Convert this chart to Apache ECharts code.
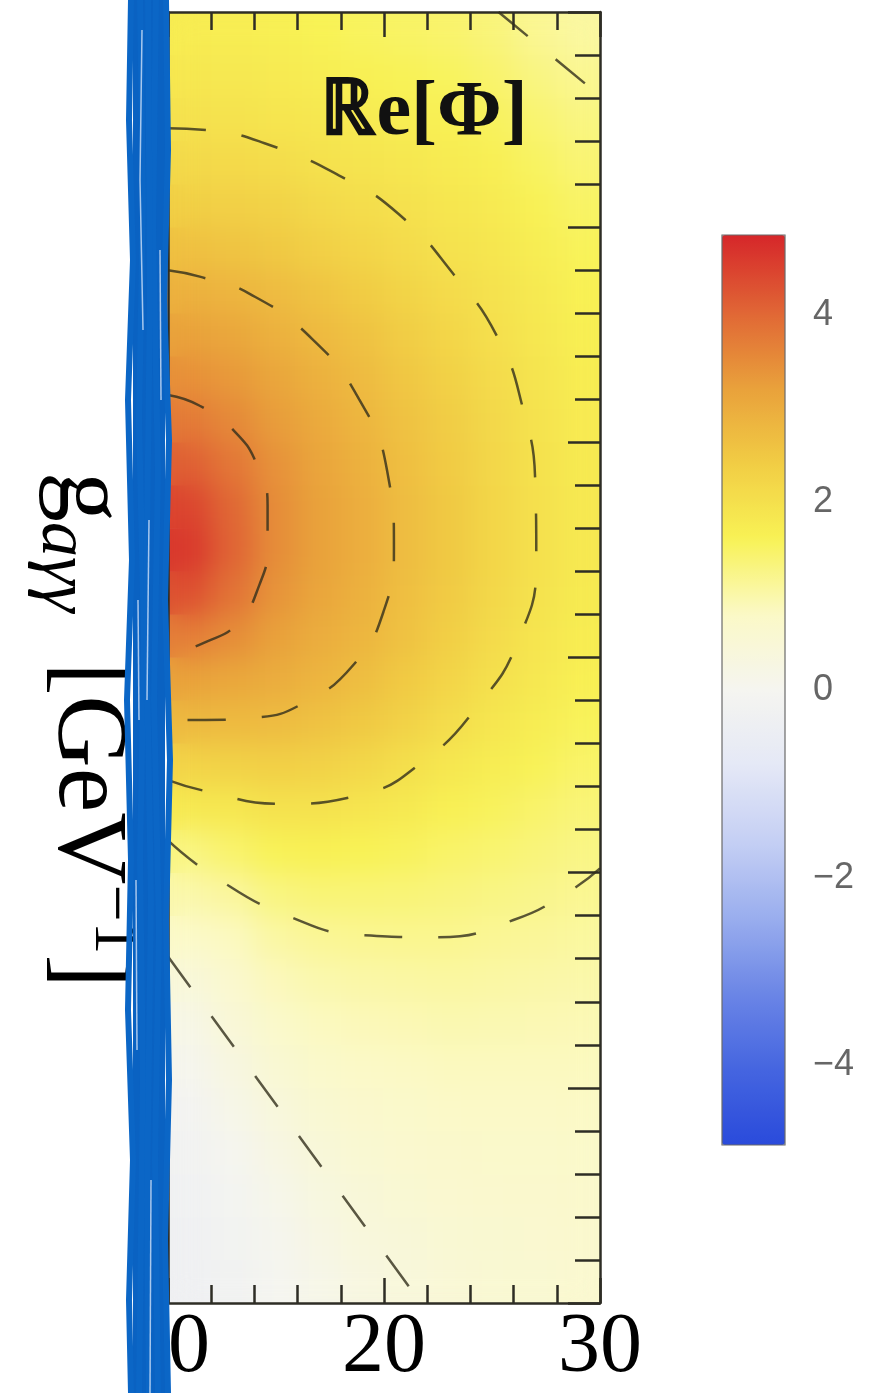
<!DOCTYPE html>
<html>
<head>
<meta charset="utf-8">
<script src="https://cdn.jsdelivr.net/npm/echarts@6/dist/echarts.min.js"></script>
<style>
  html, body { margin: 0; padding: 0; background: #fff; }
  #heat-clip { position: absolute; left: 168px; top: 12px; width: 432px; height: 1291px; overflow: hidden; }
  .heat { position: absolute; left: 0; top: 0; width: 432px; height: 1291px; }
  #heat-soft { filter: blur(14px); }
  #main { position: absolute; left: 0; top: 0; width: 875px; height: 1393px; }
</style>
</head>
<body>
<div id="heat-clip"><div id="heat-raw" class="heat"></div><div id="heat-soft" class="heat"></div></div>
<div id="main"></div>
<script>
// cell centres of the Re[Phi] map
const xCenters = [11, 13, 15, 17, 19, 21, 23, 25, 27, 29];
const yCenters = [0.1, 0.3, 0.5, 0.7, 0.9, 1.1, 1.3, 1.5, 1.7, 1.9, 2.1, 2.3, 2.5, 2.7, 2.9,
                  3.1, 3.3, 3.5, 3.7, 3.9, 4.1, 4.3, 4.5, 4.7, 4.9, 5.1, 5.3, 5.5, 5.7, 5.9];

// values per column, bottom to top
const reX11 = [-0.3, -0.3, -0.25, -0.2, -0.1, 0.05, 0.2, 0.45, 0.75, 1.0, 1.3, 1.8, 2.25, 2.78, 3.2,
               3.7, 4.3, 4.6, 4.45, 4.1, 3.75, 3.45, 3.2, 2.92, 2.65, 2.37, 2.15, 1.97, 1.85, 1.75];
const reX13 = [-0.2, -0.15, -0.08, 0.02, 0.15, 0.3, 0.48, 0.65, 0.85, 1.1, 1.45, 1.85, 2.3, 2.75, 3.1,
               3.5, 3.85, 4.05, 4.0, 3.8, 3.55, 3.33, 3.1, 2.85, 2.58, 2.33, 2.12, 1.95, 1.82, 1.72];
const reX15 = [-0.02, 0.04, 0.12, 0.25, 0.38, 0.55, 0.72, 0.88, 1.05, 1.3, 1.6, 1.95, 2.35, 2.72, 3.0,
               3.22, 3.4, 3.5, 3.5, 3.42, 3.28, 3.12, 2.93, 2.72, 2.48, 2.27, 2.07, 1.9, 1.78, 1.68];
const reX17 = [0.16, 0.24, 0.33, 0.45, 0.58, 0.72, 0.85, 0.98, 1.15, 1.38, 1.65, 1.95, 2.3, 2.6, 2.85,
               3.0, 3.13, 3.2, 3.2, 3.15, 3.05, 2.92, 2.76, 2.58, 2.35, 2.15, 1.98, 1.85, 1.72, 1.62];
const reX19 = [0.3, 0.38, 0.47, 0.57, 0.67, 0.78, 0.9, 1.03, 1.19, 1.38, 1.62, 1.9, 2.2, 2.48, 2.68,
               2.83, 2.92, 2.97, 2.97, 2.92, 2.83, 2.73, 2.6, 2.42, 2.24, 2.06, 1.92, 1.78, 1.65, 1.55];
const reX21 = [0.4, 0.47, 0.55, 0.63, 0.72, 0.82, 0.93, 1.05, 1.2, 1.37, 1.57, 1.8, 2.03, 2.3, 2.47,
               2.6, 2.67, 2.7, 2.7, 2.67, 2.61, 2.52, 2.4, 2.26, 2.1, 1.97, 1.85, 1.72, 1.6, 1.5];
const reX23 = [0.5, 0.56, 0.62, 0.69, 0.77, 0.86, 0.96, 1.07, 1.2, 1.33, 1.48, 1.65, 1.85, 2.06, 2.24,
               2.36, 2.44, 2.48, 2.48, 2.45, 2.4, 2.32, 2.22, 2.1, 1.95, 1.88, 1.77, 1.66, 1.55, 1.45];
const reX25 = [0.55, 0.6, 0.65, 0.71, 0.78, 0.86, 0.95, 1.05, 1.16, 1.28, 1.42, 1.57, 1.73, 1.88, 2.01,
               2.1, 2.18, 2.22, 2.22, 2.2, 2.16, 2.1, 2.02, 1.95, 1.88, 1.78, 1.67, 1.56, 1.45, 1.35];
const reX27 = [0.58, 0.62, 0.67, 0.72, 0.79, 0.86, 0.94, 1.03, 1.13, 1.24, 1.35, 1.47, 1.6, 1.72, 1.82,
               1.9, 1.96, 2.0, 2.0, 1.98, 1.95, 1.91, 1.86, 1.8, 1.73, 1.64, 1.53, 1.42, 1.3, 1.18];
const reX29 = [0.61, 0.65, 0.69, 0.74, 0.8, 0.86, 0.93, 1.01, 1.09, 1.18, 1.27, 1.37, 1.48, 1.58, 1.67,
               1.74, 1.79, 1.82, 1.82, 1.8, 1.78, 1.75, 1.7, 1.65, 1.58, 1.5, 1.4, 1.3, 1.19, 1.08];

// dashed contours, [x, y]
const contour1 = [[10.00, 4.22], [11.47, 4.17], [13.09, 4.05], [14.15, 3.89], [14.61, 3.71], [14.61, 3.52],
                  [14.24, 3.34], [13.23, 3.16], [11.71, 3.07], [10.00, 3.01]];
const contour2 = [[10.00, 4.80], [11.47, 4.77], [13.78, 4.69], [16.68, 4.48], [18.85, 4.20], [20.14, 3.87],
                  [20.46, 3.51], [20.00, 3.22], [18.62, 2.97], [16.31, 2.79], [13.99, 2.72], [11.71, 2.71], [10.00, 2.71]];
const contour3 = [[10.00, 5.46], [11.94, 5.45], [14.47, 5.39], [17.93, 5.24], [20.69, 5.06], [23.23, 4.78],
                  [25.30, 4.48], [26.45, 4.15], [27.00, 3.82], [27.05, 3.45], [26.22, 3.08], [24.38, 2.78],
                  [21.84, 2.52], [18.85, 2.36], [15.25, 2.32], [11.71, 2.38], [10.00, 2.43]];
const contour4 = [[10.00, 2.15], [12.17, 1.98], [15.53, 1.80], [18.94, 1.71], [22.53, 1.70], [25.99, 1.78],
                  [28.53, 1.91], [30.00, 2.02]];
const contour5 = [[10.00, 1.61], [21.71, 0.00]];
const contour6 = [[25.30, 6.00], [30.00, 5.61]];

const xTicks = [10, 20, 30];
const barLabels = [-4, -2, 0, 2, 4];
const barTicks = [-4.5, -4, -3.5, -3, -2.5, -2, -1.5, -1, -0.5, 0, 0.5, 1, 1.5, 2, 2.5, 3, 3.5, 4, 4.5];
const cMin = -4.85, cMax = 4.85;
const cmap = ['#2a4bdb', '#4565e0', '#6b86e6', '#9aaeee', '#c5cff4', '#e4e8f6', '#f5f5f0',
              '#fbf9c6', '#f8f255', '#f1cc44', '#e9a03b', '#e06535', '#d6262a'];

const columns = [reX11, reX13, reX15, reX17, reX19, reX21, reX23, reX25, reX27, reX29];
const heatData = [];
columns.forEach((col, i) => col.forEach((v, j) => heatData.push([i, j, v])));

function heatOption() {
  return {
    animation: false,
    grid: { left: 0, right: 0, top: 0, bottom: 0 },
    xAxis: { type: 'category', data: xCenters, show: false },
    yAxis: { type: 'category', data: yCenters, show: false },
    visualMap: { show: false, min: cMin, max: cMax, dimension: 2, inRange: { color: cmap } },
    series: [{ type: 'heatmap', data: heatData, itemStyle: { borderWidth: 0 } }]
  };
}
echarts.init(document.getElementById('heat-raw')).setOption(heatOption());
echarts.init(document.getElementById('heat-soft')).setOption(heatOption());

const frame = '#2e2d25';
const serif = '"Liberation Serif", "DejaVu Serif", serif';

function frameAxis(extra) {
  return Object.assign({
    type: 'value',
    gridIndex: 0,
    axisLine: { show: true, onZero: false, lineStyle: { color: frame, width: 2.5 } },
    splitLine: { show: false },
    axisLabel: { show: false }
  }, extra);
}

const tickX = { inside: true, length: 25, lineStyle: { color: frame, width: 2.5 } };
const minorX = { show: true, splitNumber: 5, length: 18, lineStyle: { color: frame, width: 2.5 } };
const tickY = { inside: true, length: 32, lineStyle: { color: frame, width: 2.5 } };
const minorY = { show: true, splitNumber: 5, length: 25, lineStyle: { color: frame, width: 2.5 } };

const dashed = { color: 'rgba(50,46,28,0.8)', width: 2.5, type: [38, 36] };
const contours = [contour1, contour2, contour3, contour4, contour5, contour6];

// hand-drawn blue strokes over the left axis
const strokes = [
  [[131, 0], [129, 120], [133, 260], [128, 400], [132, 560], [127, 700], [131, 860], [128, 1010], [133, 1160], [129, 1300], [131, 1393]],
  [[166, 0], [168, 150], [164, 300], [169, 440], [165, 600], [170, 760], [166, 920], [169, 1080], [165, 1240], [168, 1393]],
  [[140, 0], [143, 200], [139, 420], [144, 640], [140, 860], [143, 1080], [139, 1393]],
  [[156, 0], [153, 230], [158, 470], [154, 700], [159, 930], [155, 1160], [158, 1393]],
  [[148, 0], [150, 300], [146, 610], [151, 900], [147, 1200], [149, 1393]]
];
const streaks = [
  [[142, 30], [140, 180], [143, 330]],
  [[149, 520], [147, 700]],
  [[151, 1180], [150, 1393]],
  [[136, 880], [137, 1050]],
  [[160, 250], [161, 400]],
  [[138, 600], [139, 720]]
];

const chart = echarts.init(document.getElementById('main'));
chart.setOption({
  animation: false,
  grid: [
    { left: 168, top: 12, width: 432, height: 1291 },
    { left: 722, top: 235, width: 63, height: 910 }
  ],
  xAxis: [
    frameAxis({
      min: 10, max: 30, interval: 10, position: 'bottom',
      axisTick: tickX, minorTick: minorX,
      axisLabel: { show: true, customValues: xTicks, fontSize: 84, fontFamily: serif, color: '#000', margin: 4 }
    }),
    frameAxis({ min: 10, max: 30, interval: 10, position: 'top', axisTick: tickX, minorTick: minorX }),
    { type: 'value', gridIndex: 1, show: false, min: 0, max: 1 }
  ],
  yAxis: [
    frameAxis({ min: 0, max: 6, interval: 1, position: 'left', axisTick: { show: false } }),
    frameAxis({ min: 0, max: 6, interval: 1, position: 'right', axisTick: tickY, minorTick: minorY }),
    {
      type: 'value', gridIndex: 1, min: cMin, max: cMax, position: 'right',
      axisLine: { show: false },
      splitLine: { show: false },
      axisTick: { show: true, inside: false, length: 10, customValues: barTicks, lineStyle: { color: '#9a9a9a', width: 1.5 } },
      axisLabel: {
        customValues: barLabels, margin: 28, fontSize: 36, color: '#666',
        fontFamily: '"Liberation Sans", Arial, sans-serif',
        formatter: v => String(v).replace('-', '\u2212')
      }
    }
  ],
  visualMap: {
    type: 'continuous', seriesIndex: [], min: cMin, max: cMax,
    left: 722, top: 235, itemWidth: 63, itemHeight: 910, padding: 0,
    calculable: false, inRange: { color: cmap }
  },
  series: contours.map(pts => ({
    type: 'line', xAxisIndex: 0, yAxisIndex: 0, data: pts, smooth: true,
    showSymbol: false, silent: true, lineStyle: dashed, z: 5
  })),
  graphic: [
    {
      type: 'rect', z: 50, shape: { x: 722, y: 235, width: 63, height: 910 },
      style: { fill: 'none', stroke: '#6a6a6a', lineWidth: 1.2 }
    },
    {
      type: 'text', z: 50, x: 424, y: 114,
      style: { text: '\u211De[\u03A6]', font: 'bold 78px ' + serif, fill: '#111', align: 'center', verticalAlign: 'middle' }
    },
    {
      type: 'text', z: 50, x: 86, y: 730, rotation: -Math.PI / 2,
      style: {
        text: '{g|g}{sub|a\u03B3\u03B3}{n|  [GeV}{sup|\u22121}{n|]}',
        align: 'center', verticalAlign: 'middle',
        rich: {
          g: { fontSize: 100, fontFamily: serif, lineHeight: 120, fill: '#000' },
          sub: { fontSize: 70, fontStyle: 'italic', fontFamily: serif, lineHeight: 70, verticalAlign: 'bottom', fill: '#000' },
          n: { fontSize: 100, fontFamily: serif, lineHeight: 120, fill: '#000' },
          sup: { fontSize: 66, fontFamily: serif, lineHeight: 66, verticalAlign: 'top', fill: '#000' }
        }
      }
    },
    {
      type: 'rect', z: 90, shape: { x: 133, y: 0, width: 32, height: 1393 },
      style: { fill: '#0a62c2' }
    }
  ].concat(strokes.map(pts => ({
    type: 'polyline', z: 91, shape: { points: pts },
    style: { stroke: '#0b66c6', lineWidth: 6, fill: null }
  }))).concat(streaks.map(pts => ({
    type: 'polyline', z: 92, shape: { points: pts },
    style: { stroke: 'rgba(235,242,255,0.7)', lineWidth: 1.5, fill: null }
  })))
});
</script>
</body>
</html>
